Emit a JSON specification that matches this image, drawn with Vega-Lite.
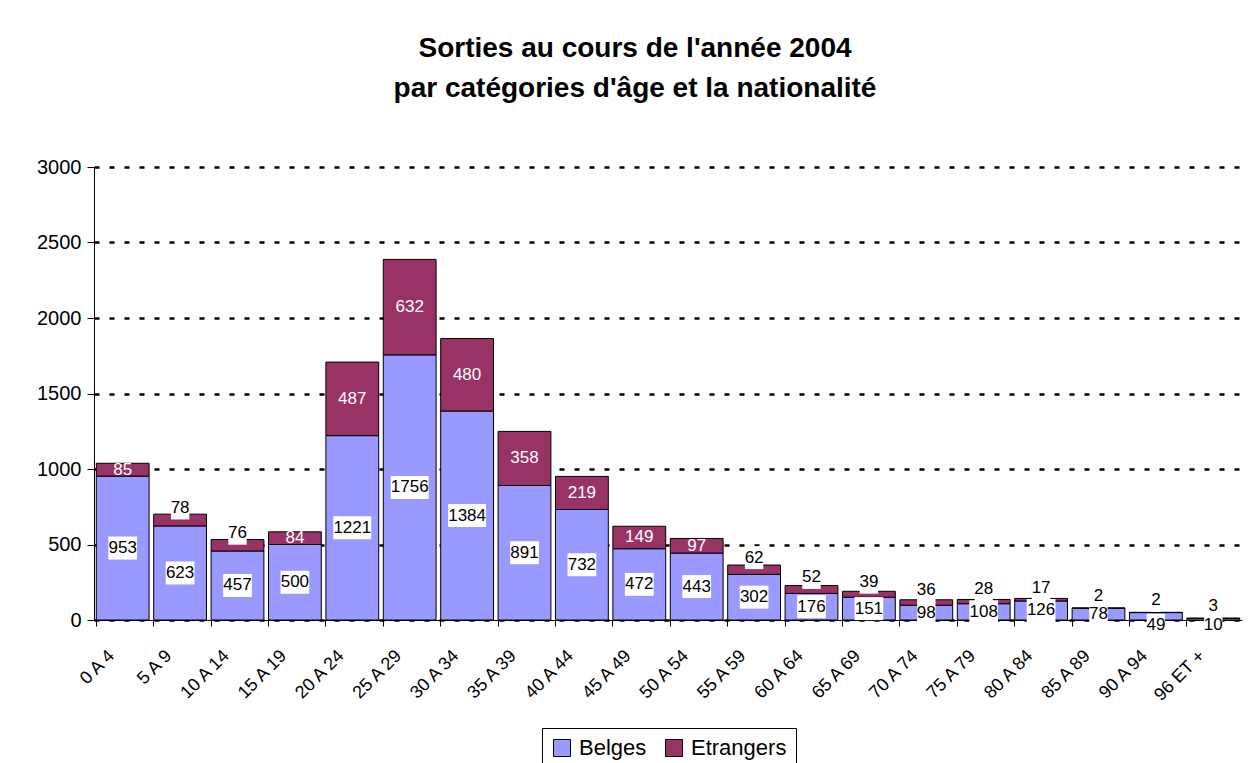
{
  "$schema": "https://vega.github.io/schema/vega-lite/v6.json",
  "width": 1148,
  "height": 453,
  "padding": {"left": 36, "top": 35, "right": 9, "bottom": 0},
  "background": "white",
  "config": {
    "font": "Liberation Sans",
    "view": {"stroke": null}
  },
  "title": {
    "text": ["Sorties au cours de l'année 2004", "par catégories d'âge et la nationalité"],
    "font": "Liberation Sans",
    "fontSize": 28,
    "fontWeight": "bold",
    "lineHeight": 40,
    "anchor": "middle",
    "dx": -33,
    "offset": 54,
    "color": "black"
  },
  "data": {
    "values": [
      {"age": "0 A 4", "nat": "Belges", "n": 953},
      {"age": "0 A 4", "nat": "Etrangers", "n": 85},
      {"age": "5 A 9", "nat": "Belges", "n": 623},
      {"age": "5 A 9", "nat": "Etrangers", "n": 78},
      {"age": "10 A 14", "nat": "Belges", "n": 457},
      {"age": "10 A 14", "nat": "Etrangers", "n": 76},
      {"age": "15 A 19", "nat": "Belges", "n": 500},
      {"age": "15 A 19", "nat": "Etrangers", "n": 84},
      {"age": "20 A 24", "nat": "Belges", "n": 1221},
      {"age": "20 A 24", "nat": "Etrangers", "n": 487},
      {"age": "25 A 29", "nat": "Belges", "n": 1756},
      {"age": "25 A 29", "nat": "Etrangers", "n": 632},
      {"age": "30 A 34", "nat": "Belges", "n": 1384},
      {"age": "30 A 34", "nat": "Etrangers", "n": 480},
      {"age": "35 A 39", "nat": "Belges", "n": 891},
      {"age": "35 A 39", "nat": "Etrangers", "n": 358},
      {"age": "40 A 44", "nat": "Belges", "n": 732},
      {"age": "40 A 44", "nat": "Etrangers", "n": 219},
      {"age": "45 A 49", "nat": "Belges", "n": 472},
      {"age": "45 A 49", "nat": "Etrangers", "n": 149},
      {"age": "50 A 54", "nat": "Belges", "n": 443},
      {"age": "50 A 54", "nat": "Etrangers", "n": 97},
      {"age": "55 A 59", "nat": "Belges", "n": 302},
      {"age": "55 A 59", "nat": "Etrangers", "n": 62},
      {"age": "60 A 64", "nat": "Belges", "n": 176},
      {"age": "60 A 64", "nat": "Etrangers", "n": 52},
      {"age": "65 A 69", "nat": "Belges", "n": 151},
      {"age": "65 A 69", "nat": "Etrangers", "n": 39},
      {"age": "70 A 74", "nat": "Belges", "n": 98},
      {"age": "70 A 74", "nat": "Etrangers", "n": 36},
      {"age": "75 A 79", "nat": "Belges", "n": 108},
      {"age": "75 A 79", "nat": "Etrangers", "n": 28},
      {"age": "80 A 84", "nat": "Belges", "n": 126},
      {"age": "80 A 84", "nat": "Etrangers", "n": 17},
      {"age": "85 A 89", "nat": "Belges", "n": 78},
      {"age": "85 A 89", "nat": "Etrangers", "n": 2},
      {"age": "90 A 94", "nat": "Belges", "n": 49},
      {"age": "90 A 94", "nat": "Etrangers", "n": 2},
      {"age": "96 ET +", "nat": "Belges", "n": 10},
      {"age": "96 ET +", "nat": "Etrangers", "n": 3}
    ]
  },
  "transform": [
    {"stack": "n", "groupby": ["age"], "sort": [{"field": "nat", "order": "ascending"}], "as": ["y0", "y1"]},
    {"calculate": "(datum.nat == 'Belges' && datum.n < 60) ? -35 : (datum.y0 + datum.y1) / 2 + ((datum.nat == 'Etrangers' && datum.n < 84) ? 80 : 0)", "as": "ly"},
    {"calculate": "'' + length('' + datum.n)", "as": "digits"},
    {"calculate": "(datum.nat == 'Etrangers' && datum.n >= 84) ? 'in' : 'box'", "as": "lstyle"}
  ],
  "encoding": {
    "x": {
      "field": "age",
      "type": "nominal",
      "sort": ["0 A 4", "5 A 9", "10 A 14", "15 A 19", "20 A 24", "25 A 29", "30 A 34", "35 A 39", "40 A 44", "45 A 49", "50 A 54", "55 A 59", "60 A 64", "65 A 69", "70 A 74", "75 A 79", "80 A 84", "85 A 89", "90 A 94", "96 ET +"],
      "scale": {"paddingInner": 0.08, "paddingOuter": 0.04},
      "axis": {
        "title": null,
        "labelAngle": -45,
        "labelAlign": "right",
        "labelBaseline": "middle",
        "bandPosition": 0,
        "labelOffset": -11,
        "labelPadding": 27,
        "tickSize": 6,
        "domainColor": "black",
        "tickColor": "black",
        "labelColor": "black",
        "labelFontSize": 18,
        "labelFont": "Liberation Sans",
        "grid": false
      }
    }
  },
  "layer": [
    {
      "mark": {"type": "bar", "stroke": "black", "strokeWidth": 1},
      "encoding": {
        "y": {
          "field": "y1",
          "type": "quantitative",
          "scale": {"domain": [0, 3000], "nice": false},
          "axis": {
            "title": null,
            "format": "d",
            "values": [0, 500, 1000, 1500, 2000, 2500, 3000],
            "domainColor": "black",
            "tickColor": "black",
            "tickSize": 7,
            "labelFontSize": 20,
            "labelFont": "Liberation Sans",
            "labelColor": "black",
            "labelPadding": 6,
            "grid": true,
            "gridColor": "black",
            "gridDash": [5, 10],
            "gridWidth": 2.5
          }
        },
        "y2": {"field": "y0"},
        "color": {
          "field": "nat",
          "type": "nominal",
          "scale": {"domain": ["Belges", "Etrangers"], "range": ["#9999FF", "#993366"]},
          "legend": {
            "title": null,
            "orient": "none",
            "legendX": 448,
            "legendY": 561,
            "direction": "horizontal",
            "strokeColor": "black",
            "padding": 9,
            "labelFontSize": 22,
            "labelFont": "Liberation Sans",
            "labelColor": "black",
            "symbolType": "square",
            "symbolSize": 289,
            "symbolStrokeColor": "black",
            "symbolStrokeWidth": 1,
            "symbolOpacity": 1,
            "labelOffset": 6,
            "columnPadding": 16
          }
        }
      }
    },
    {
      "transform": [{"filter": "datum.lstyle == 'box'"}],
      "mark": {"type": "point", "filled": true, "fill": "white", "opacity": 1, "strokeWidth": 0, "size": 529},
      "encoding": {
        "y": {"field": "ly", "type": "quantitative"},
        "shape": {
          "field": "digits",
          "type": "nominal",
          "scale": {
            "domain": ["1", "2", "3", "4"],
            "range": [
              "M-0.45,-1L0.45,-1L0.45,1L-0.45,1Z",
              "M-0.8,-1L0.8,-1L0.8,1L-0.8,1Z",
              "M-1.25,-1L1.25,-1L1.25,1L-1.25,1Z",
              "M-1.65,-1L1.65,-1L1.65,1L-1.65,1Z"
            ]
          },
          "legend": null
        }
      }
    },
    {
      "mark": {"type": "text", "fontSize": 17, "font": "Liberation Sans", "baseline": "middle", "align": "center"},
      "encoding": {
        "y": {"field": "ly", "type": "quantitative"},
        "text": {"field": "n", "type": "quantitative"},
        "color": {
          "condition": {"test": "datum.lstyle == 'in'", "value": "white"},
          "value": "black"
        }
      }
    }
  ]
}
